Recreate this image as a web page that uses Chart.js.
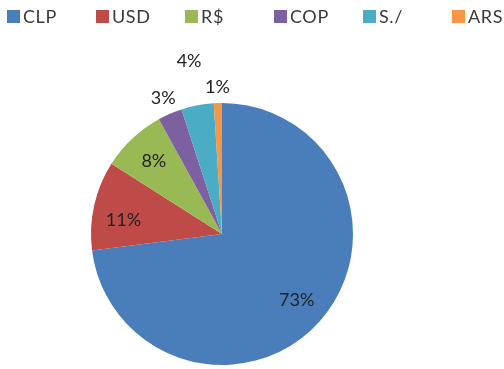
<!DOCTYPE html>
<html>
<head>
<meta charset="utf-8">
<script src="https://cdn.jsdelivr.net/npm/chart.js@4/dist/chart.umd.min.js"></script>
<style>
  html, body { margin: 0; padding: 0; background: #fff; }
  #wrap { position: relative; width: 504px; height: 369px; }
  #legend { position: absolute; top: 5px; left: 7px; display: flex; font-family: Lato, sans-serif; font-size: 18px; letter-spacing: 0.6px; color: #3a3a3a; }
  #legend .item { width: 89px; display: flex; align-items: center; }
  #legend .box { width: 13px; height: 13px; margin-right: 3px; }
</style>
</head>
<body>
<div id="wrap">
  <canvas id="chart1" width="504" height="369"></canvas>
  <div id="legend"></div>
</div>
<script>
let currencies = ["CLP", "USD", "R$", "COP", "S./", "ARS"]
let shares = [73, 11, 8, 3, 4, 1]
let sliceColors = ["#4A7EBB", "#BE4B48", "#98B954", "#7D60A0", "#4BACC6", "#F79646"]

// percent labels, inside for big slices and outside for the small ones
let pctLabels = {
  id: 'pctLabels',
  afterDatasetsDraw(chart, args, opts) {
    let ctx = chart.ctx
    let meta = chart.getDatasetMeta(0)
    ctx.save()
    ctx.font = '18px Lato, sans-serif'
    ctx.fillStyle = '#222'
    ctx.textAlign = 'center'
    ctx.textBaseline = 'middle'
    meta.data.forEach((arc, i) => {
      let p = arc.getProps(['x', 'y', 'startAngle', 'endAngle', 'outerRadius'], true)
      let mid = (p.startAngle + p.endAngle) / 2 + opts.shift[i]
      let r = p.outerRadius * opts.radius[i]
      ctx.fillText(chart.data.datasets[0].data[i] + '%', p.x + Math.cos(mid) * r, p.y + Math.sin(mid) * r)
    })
    ctx.restore()
  }
}

// html legend built from the chart's own legend items
let htmlLegend = {
  id: 'htmlLegend',
  afterUpdate(chart) {
    let box = document.getElementById('legend')
    box.innerHTML = ''
    chart.options.plugins.legend.labels.generateLabels(chart).forEach(item => {
      let el = document.createElement('div')
      el.className = 'item'
      let sq = document.createElement('span')
      sq.className = 'box'
      sq.style.background = item.fillStyle
      el.appendChild(sq)
      el.appendChild(document.createTextNode(item.text))
      box.appendChild(el)
    })
  }
}

new Chart(document.getElementById("chart1"), {
  type: 'pie',
  data: {
    labels: currencies,
    datasets: [
      {
        data: shares,
        backgroundColor: sliceColors,
        borderWidth: 0
      }
    ]
  },
  options: {
    responsive: false,
    animation: false,
    layout: { padding: { left: 91, right: 151, top: 103, bottom: 4 } },
    plugins: {
      legend: { display: false },
      tooltip: { enabled: false },
      pctLabels: {
        radius: [0.76, 0.76, 0.76, 1.13, 1.34, 1.12],
        shift: [0, -0.08, 0, 0, 0, 0]
      }
    }
  },
  plugins: [pctLabels, htmlLegend]
});
</script>
</body>
</html>
